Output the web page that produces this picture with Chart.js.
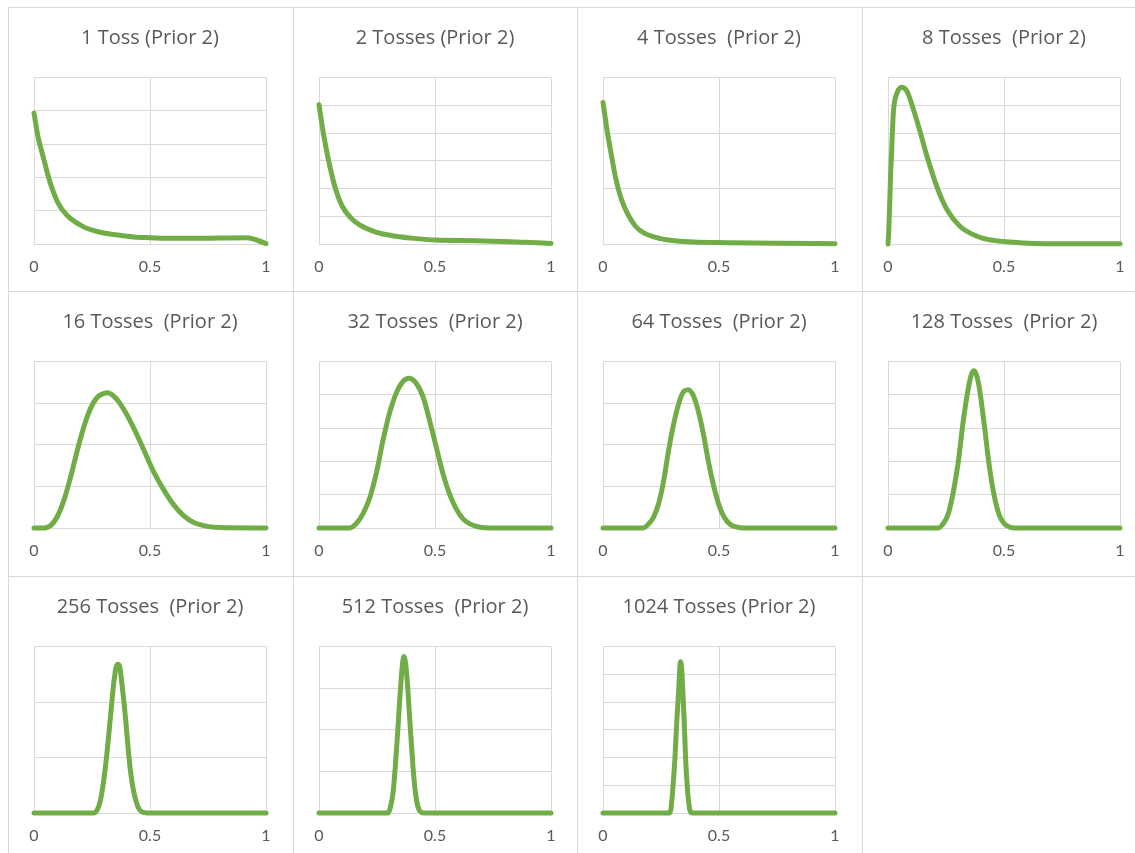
<!DOCTYPE html>
<html>
<head>
<meta charset="utf-8">
<script src="https://cdn.jsdelivr.net/npm/chart.js@4"></script>
<style>
  body { margin: 0; background: #fff; }
  #grid { position: relative; width: 1135px; height: 853px; overflow: hidden; }
  .cell { position: absolute; width: 285px; height: 285px; box-sizing: border-box;
          border-left: 1px solid #d9d9d9; border-top: 1px solid #d9d9d9; }
  .cell canvas { position: absolute; left: 0; top: 0; }
</style>
</head>
<body>
<div id="grid"></div>
<script>
// titles of the small charts, in reading order
const titles = [
    '1 Toss (Prior 2)', '2 Tosses (Prior 2)', '4 Tosses  (Prior 2)', '8 Tosses  (Prior 2)',
    '16 Tosses  (Prior 2)', '32 Tosses  (Prior 2)', '64 Tosses  (Prior 2)', '128 Tosses  (Prior 2)',
    '256 Tosses  (Prior 2)', '512 Tosses  (Prior 2)', '1024 Tosses (Prior 2)'
];

// number of horizontal grid steps on each chart (y axis has no labels)
const ySteps = [5, 6, 3, 6, 4, 5, 4, 5, 3, 4, 6];

const xTicks = [0, 0.5, 1];

// curves: [x, height in grid steps]
const toss1 = [[0, 3.93], [0.017, 3.23], [0.039, 2.63], [0.068, 1.88], [0.104, 1.23], [0.14, 0.88],
    [0.21, 0.53], [0.28, 0.36], [0.36, 0.27], [0.43, 0.21], [0.5, 0.19], [0.6, 0.17], [0.7, 0.17],
    [0.8, 0.18], [0.92, 0.19], [0.96, 0.12], [1, 0.01]];
const toss2 = [[0, 5.02], [0.014, 4.24], [0.029, 3.52], [0.05, 2.68], [0.072, 1.96], [0.1, 1.36],
    [0.137, 0.94], [0.173, 0.7], [0.245, 0.43], [0.317, 0.3], [0.39, 0.22], [0.5, 0.14], [0.68, 0.12],
    [0.89, 0.06], [1, 0.02]];
const toss4 = [[0, 2.55], [0.017, 2.06], [0.032, 1.7], [0.053, 1.22], [0.075, 0.86], [0.104, 0.56],
    [0.14, 0.32], [0.176, 0.2], [0.247, 0.096], [0.32, 0.054], [0.39, 0.036], [0.535, 0.024],
    [0.75, 0.012], [1, 0.006]];
const toss8 = [[0, 0], [0.003, 0.4], [0.007, 1.36], [0.011, 2.44], [0.016, 3.4], [0.02, 4.24],
    [0.024, 4.84], [0.039, 5.44], [0.058, 5.65], [0.082, 5.5], [0.11, 4.84], [0.14, 4.0], [0.168, 3.16],
    [0.21, 2.08], [0.254, 1.24], [0.31, 0.64], [0.383, 0.28], [0.455, 0.13], [0.527, 0.07],
    [0.627, 0.02], [0.74, 0.01], [1, 0.01]];
const toss16 = [[0, 0], [0.04, 0], [0.072, 0.06], [0.1, 0.27], [0.129, 0.67], [0.158, 1.23],
    [0.187, 1.87], [0.215, 2.43], [0.244, 2.88], [0.273, 3.14], [0.3, 3.23], [0.318, 3.25],
    [0.359, 3.08], [0.388, 2.84], [0.43, 2.4], [0.473, 1.88], [0.516, 1.35], [0.56, 0.91],
    [0.603, 0.55], [0.646, 0.29], [0.689, 0.13], [0.746, 0.04], [0.8, 0.01], [1, 0]];
const toss32 = [[0, 0], [0.13, 0], [0.16, 0.13], [0.19, 0.43], [0.22, 0.93], [0.25, 1.74],
    [0.276, 2.64], [0.304, 3.45], [0.333, 4.05], [0.362, 4.4], [0.388, 4.5], [0.419, 4.35],
    [0.448, 3.95], [0.476, 3.25], [0.505, 2.44], [0.534, 1.64], [0.562, 1.03], [0.591, 0.58],
    [0.62, 0.28], [0.648, 0.13], [0.69, 0.03], [0.75, 0], [1, 0]];
const toss64 = [[0, 0], [0.175, 0], [0.197, 0.1], [0.219, 0.27], [0.24, 0.59], [0.262, 1.15],
    [0.283, 1.87], [0.305, 2.51], [0.327, 3.0], [0.348, 3.28], [0.367, 3.32], [0.391, 3.16],
    [0.413, 2.76], [0.435, 2.19], [0.456, 1.55], [0.478, 0.99], [0.5, 0.55], [0.521, 0.27],
    [0.55, 0.08], [0.578, 0.02], [0.607, 0], [1, 0]];
const toss128 = [[0, 0], [0.217, 0], [0.238, 0.13], [0.26, 0.43], [0.28, 1.03], [0.302, 1.94],
    [0.323, 3.14], [0.345, 4.15], [0.359, 4.6], [0.37, 4.72], [0.381, 4.6], [0.395, 4.15],
    [0.416, 3.04], [0.437, 1.84], [0.459, 0.93], [0.48, 0.38], [0.501, 0.13], [0.523, 0.03],
    [0.544, 0], [1, 0]];
const toss256 = [[0, 0], [0.258, 0], [0.273, 0.06], [0.287, 0.24], [0.301, 0.6], [0.316, 1.14],
    [0.33, 1.75], [0.344, 2.35], [0.354, 2.63], [0.362, 2.68], [0.37, 2.62], [0.38, 2.29],
    [0.395, 1.69], [0.409, 1.02], [0.423, 0.54], [0.438, 0.24], [0.452, 0.08], [0.466, 0.02],
    [0.488, 0], [1, 0]];
const toss512 = [[0, 0], [0.297, 0], [0.307, 0.12], [0.319, 0.48], [0.329, 1.12], [0.34, 2.01],
    [0.35, 2.89], [0.359, 3.53], [0.366, 3.76], [0.373, 3.61], [0.383, 2.97], [0.393, 2.09],
    [0.405, 1.12], [0.415, 0.52], [0.426, 0.16], [0.44, 0.02], [0.455, 0], [1, 0]];
const toss1024 = [[0, 0], [0.287, 0], [0.293, 0.16], [0.301, 0.88], [0.31, 1.97], [0.318, 3.3],
    [0.326, 4.39], [0.331, 5.21], [0.334, 5.45], [0.339, 5.21], [0.344, 4.39], [0.35, 3.3],
    [0.356, 1.97], [0.364, 0.88], [0.373, 0.16], [0.383, 0], [1, 0]];

const curves = [toss1, toss2, toss4, toss8, toss16, toss32, toss64, toss128, toss256, toss512, toss1024];

const green = '#70ad47';
const gridColor = '#d9d9d9';
const textColor = '#595959';
const colLeft = [8, 293, 577, 862];
const rowTop = [7, 291, 576];

const container = document.getElementById('grid');

// the empty twelfth cell still has its border
for (let i = 0; i < 12; i++) {
    const cell = document.createElement('div');
    cell.className = 'cell';
    cell.style.left = colLeft[i % 4] + 'px';
    cell.style.top = rowTop[Math.floor(i / 4)] + 'px';
    container.appendChild(cell);
    if (i < curves.length) makeChart(cell, i);
}

function makeChart(cell, i) {
    const canvas = document.createElement('canvas');
    canvas.width = 284;
    canvas.height = 284;
    cell.appendChild(canvas);

    new Chart(canvas.getContext('2d'), {
        type: 'line',
        data: {
            datasets: [{
                data: curves[i].map(p => ({ x: p[0], y: p[1] })),
                borderColor: green,
                borderWidth: 5,
                pointRadius: 0,
                cubicInterpolationMode: 'monotone',
                borderCapStyle: 'round',
                borderJoinStyle: 'round',
                clip: 6
            }]
        },
        options: {
            responsive: false,
            animation: false,
            events: [],
            layout: { padding: { left: 25, right: 27, top: 0, bottom: 0 } },
            plugins: {
                legend: { display: false },
                tooltip: { enabled: false },
                title: {
                    display: true,
                    text: titles[i],
                    color: textColor,
                    font: { family: 'Open Sans', size: 20, weight: 'normal', lineHeight: 1.2 },
                    padding: { top: 18, bottom: 27.5 }
                }
            },
            scales: {
                x: {
                    type: 'linear',
                    min: xTicks[0],
                    max: xTicks[xTicks.length - 1],
                    afterBuildTicks: axis => { axis.ticks = xTicks.map(v => ({ value: v })); },
                    ticks: {
                        color: textColor,
                        font: { family: 'Lato', size: 16 },
                        padding: 13,
                        maxRotation: 0,
                        callback: v => String(v)
                    },
                    grid: { color: gridColor, drawTicks: false },
                    border: { color: gridColor },
                    afterFit: axis => { axis.height = 48; }
                },
                y: {
                    min: 0,
                    max: ySteps[i],
                    ticks: { display: false, stepSize: 1 },
                    grid: { color: gridColor, drawTicks: false },
                    border: { color: gridColor },
                    afterFit: axis => { axis.width = 0; }
                }
            }
        }
    });
}
</script>
</body>
</html>
